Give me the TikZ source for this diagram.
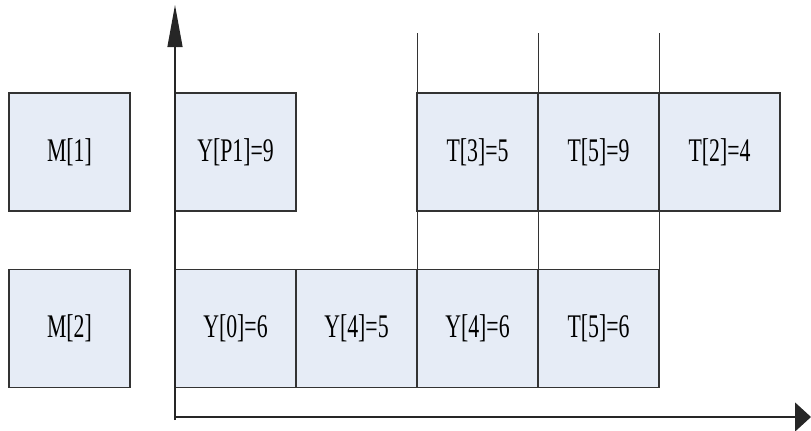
\documentclass[tikz,border=0pt]{standalone}
\usepackage{fontspec}
\newfontfamily\cellfont[FakeStretch=0.66]{Liberation Serif}
\usetikzlibrary{positioning,arrows.meta}
\definecolor{cellfill}{HTML}{E6ECF6}
\definecolor{celldraw}{HTML}{333333}
\tikzset{
  cell/.style={draw=celldraw, line width=0.75pt, fill=cellfill,
    minimum width=60.5pt, minimum height=59pt,
    inner sep=0pt, outer sep=0pt,
    font=\cellfont\fontsize{16.5}{19}\selectfont},
  axis/.style={draw=black!85, line width=0.6pt},
  guide/.style={draw=black!80, line width=0.4pt},
}
\begin{document}
\begin{tikzpicture}[x=0.5pt,y=0.5pt]
  \useasboundingbox (0,0) rectangle (811,430);
  % machines
  \node[cell] (m1) at (69.5,278) {M[1]};
  \node[cell] (m2) at (69.5,101.5) {M[2]};
  % first row
  \node[cell] (yp1) at (235.5,278) {Y[P1]=9};
  \node[cell] (t3) at (477.5,278) {T[3]=5};
  \node[cell, right=0pt of t3] (t5) {T[5]=9};
  \node[cell, right=0pt of t5] (t2) {T[2]=4};
  % second row
  \node[cell] (y0) at (235.5,101.5) {Y[0]=6};
  \node[cell, right=0pt of y0] (y45) {Y[4]=5};
  \node[cell, right=0pt of y45] (y46) {Y[4]=6};
  \node[cell, right=0pt of y46] (t56) {T[5]=6};
  % guide lines between the rows
  \foreach \a/\b in {t3/y46.north west, t5/t56.north west, t2/t56.north east} {
    \draw[guide] (\a.north west) -- ++(0,60);
    \draw[guide] (\a.south west) -- (\b);
  }
  % time and machine axes
  \coordinate (ybot) at (175,10);
  \coordinate (ytop) at (175,425);
  \coordinate (xbeg) at (175,13);
  \coordinate (xend) at (811,13);
  \draw[axis, -{Triangle[length=21pt,width=7.5pt]}] (ybot) -- (ytop);
  \draw[axis, -{Triangle[length=8pt,width=14.5pt]}] (xbeg) -- (xend);
\end{tikzpicture}
\end{document}
